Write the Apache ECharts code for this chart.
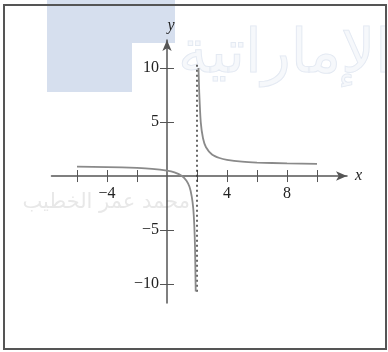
<!DOCTYPE html>
<html>
<head>
<meta charset="utf-8">
<script src="https://cdn.jsdelivr.net/npm/echarts@6/dist/echarts.min.js"></script>
<style>
  html, body { margin: 0; padding: 0; background: #fff; }
  #chart { width: 388px; height: 352px; }
</style>
</head>
<body>
<div id="chart"></div>
<script>
// points
var leftX  = [-6, -4, -2, -1, 0, 0.5, 1, 1.3, 1.5, 1.65, 1.75, 1.82, 1.87, 1.9, 1.915];
var leftY  = [0.88, 0.83, 0.75, 0.67, 0.5, 0.33, 0, -0.43, -1, -1.9, -3, -4.6, -6.7, -9.5, -10.7];
var rightX = [2.1, 2.15, 2.25, 2.4, 2.6, 3, 3.5, 4, 5, 6, 8, 10];
var rightY = [10, 7.7, 5, 3.5, 2.67, 2, 1.67, 1.5, 1.33, 1.25, 1.17, 1.12];
var asymX = [2, 2];
var asymY = [10.3, -10.8];

var xTicks = [-6, -4, -2, 2, 4, 6, 8, 10];
var xLabels = [-4, 4, 8];
var yTicks = [-10, -5, 5, 10];
var yLabels = [-10, -5, 5, 10];

var xMin = -7.7, xMax = 12;
var yMin = -11.76, yMax = 12.6;

function pairs(xs, ys){
	var out = [];
	for(var i = 0; i < xs.length; i++){
		out.push([xs[i], ys[i]]);
	}
	return out;
}
function fmt(v){
	return v < 0 ? "\u2212" + (-v) : "" + v;
}

var W = 388, H = 352;
var gLeft = 51.5, gRight = 41, gTop = 40, gBottom = 49;
// move the axes from the grid edge onto the zero lines
var xOff = -(0 - yMin) / (yMax - yMin) * (H - gTop - gBottom);
var yOff = -(0 - xMin) / (xMax - xMin) * (W - gLeft - gRight);

var axisCol = "#555";
var serif = "Liberation Serif";

function xAxisOf(inner){
	return {
		type: "value", min: xMin, max: xMax, position: "bottom", offset: xOff,
		splitLine: { show: false },
		axisLine: { show: !inner, onZero: false, symbol: ["none", "arrow"], symbolSize: [7, 11],
			lineStyle: { color: axisCol, width: 1.5 } },
		axisTick: { inside: inner, customValues: xTicks, length: 6, lineStyle: { color: axisCol } },
		axisLabel: { show: !inner, customValues: xLabels, formatter: fmt, margin: 10,
			fontFamily: serif, fontSize: 16, color: "#222" },
		name: inner ? "" : "x", nameLocation: "end", nameGap: 8,
		nameTextStyle: { fontFamily: serif, fontStyle: "italic", fontSize: 16, color: "#222" }
	};
}
function yAxisOf(inner){
	return {
		type: "value", min: yMin, max: yMax, position: "left", offset: yOff,
		splitLine: { show: false },
		axisLine: { show: !inner, onZero: false, symbol: ["none", "arrow"], symbolSize: [7, 11],
			lineStyle: { color: axisCol, width: 1.5 } },
		axisTick: { inside: inner, customValues: yTicks, length: 7, lineStyle: { color: axisCol } },
		axisLabel: { show: !inner, customValues: yLabels, formatter: fmt, margin: 8,
			fontFamily: serif, fontSize: 16, color: "#222" },
		name: inner ? "" : "y", nameLocation: "end", nameGap: 6,
		nameTextStyle: { fontFamily: serif, fontStyle: "italic", fontSize: 16, color: "#222", padding: [0, 0, 0, 8] }
	};
}

var myChart = echarts.init(document.getElementById("chart"));
var option = {
	animation: false,
	backgroundColor: "#fff",
	grid: { left: gLeft, right: gRight, top: gTop, bottom: gBottom },
	xAxis: [xAxisOf(false), xAxisOf(true)],
	yAxis: [yAxisOf(false), yAxisOf(true)],
	graphic: [
		{ type: "polygon", z: -10, silent: true,
			shape: { points: [[47, 0], [175, 0], [175, 43], [132, 43], [132, 92], [47, 92]] },
			style: { fill: "#d6dfee" } },
		{ type: "text", z: -9, silent: true, x: 392, y: 26,
			style: { text: "\u0627\u0644\u0625\u0645\u0627\u0631\u0627\u062a\u064a\u0629", font: "60px 'DejaVu Sans'",
				textAlign: "right", fill: "rgba(238,242,248,0.5)", stroke: "#e2e8f2", lineWidth: 1 } },
		{ type: "text", z: -9, silent: true, x: 190, y: 192,
			style: { text: "\u0645\u062d\u0645\u062f \u0639\u0645\u0631 \u0627\u0644\u062e\u0637\u064a\u0628", font: "21px 'DejaVu Sans'",
				textAlign: "right", fill: "#e8e8e8" } },
		{ type: "rect", z: 100, silent: true,
			shape: { x: 4, y: 5, width: 382, height: 344 },
			style: { fill: "none", stroke: "#555", lineWidth: 2 } }
	],
	series: [
		{ type: "line", data: pairs(asymX, asymY), symbol: "none",
			lineStyle: { color: "#333", width: 1.5, type: [2, 3] } },
		{ type: "line", data: pairs(leftX, leftY), symbol: "none", smooth: 0.2,
			lineStyle: { color: "#8a8a8a", width: 1.8 } },
		{ type: "line", data: pairs(rightX, rightY), symbol: "none", smooth: 0.2,
			lineStyle: { color: "#8a8a8a", width: 1.8 } }
	]
};
myChart.setOption(option);
</script>
</body>
</html>
